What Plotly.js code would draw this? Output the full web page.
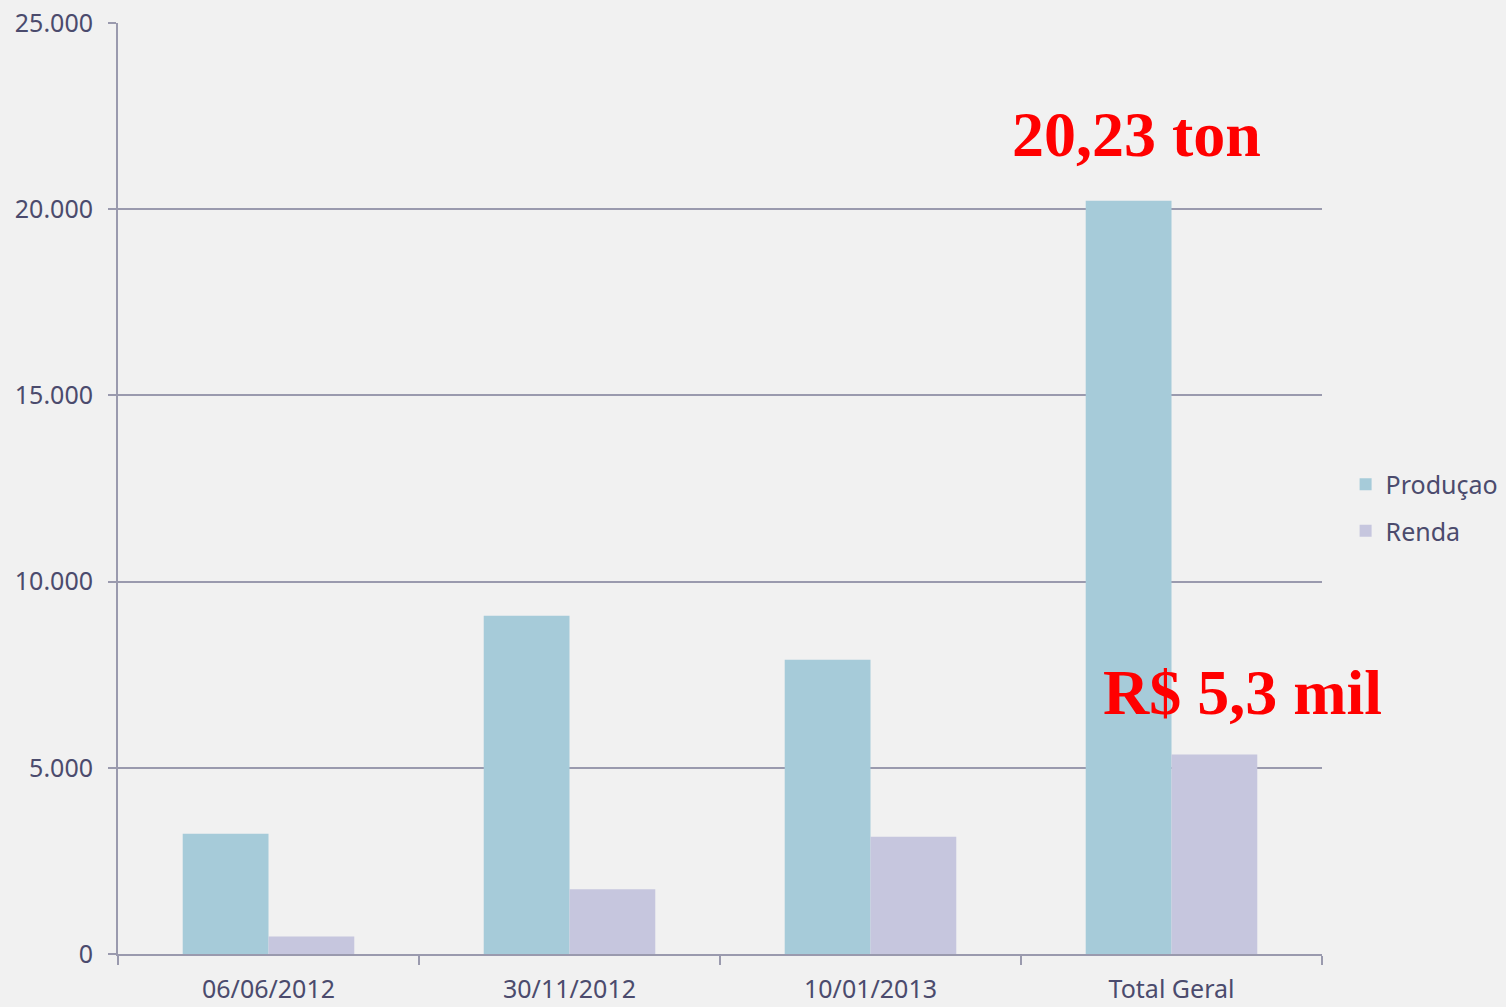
<!DOCTYPE html>
<html>
<head>
<meta charset="utf-8">
<script src="https://cdn.plot.ly/plotly-3.0.1.min.js"></script>
<style>
html,body{margin:0;padding:0;background:#f1f1f1;}
#chart{width:1506px;height:1007px;}
</style>
</head>
<body>
<div id="chart"></div>
<script>
const categories = ["06/06/2012", "30/11/2012", "10/01/2013", "Total Geral"];
const producao = [3230, 9080, 7900, 20230];
const renda = [470, 1740, 3150, 5360];
const yTickVals = [0, 5000, 10000, 15000, 20000, 25000];
const yTickText = ["0", "5.000", "10.000", "15.000", "20.000", "25.000"];

const textColor = "#4b4b6d";
const lineColor = "#9a9aae";
const fontFamily = "'Noto Sans', 'DejaVu Sans', sans-serif";

const traces = [
  {type: "bar", name: "Produçao", x: categories, y: producao,
   marker: {color: "#a6cbd9"}, legendgroup: "a"},
  {type: "bar", name: "Renda", x: categories, y: renda,
   marker: {color: "#c6c6de"}, legendgroup: "b"}
];

const layout = {
  width: 1506, height: 1007,
  paper_bgcolor: "#f1f1f1", plot_bgcolor: "rgba(0,0,0,0)",
  margin: {l: 118, r: 184, t: 23, b: 53, autoexpand: false},
  barmode: "group", bargap: 0.43, bargroupgap: 0,
  font: {family: fontFamily, size: 25, color: textColor},
  showlegend: true,
  legend: {xref: "container", yref: "container", x: 0.8935, y: 0.496,
           xanchor: "left", yanchor: "middle", itemwidth: 30,
           bgcolor: "rgba(0,0,0,0)", font: {size: 25, color: textColor},
           traceorder: "grouped", tracegroupgap: 11},
  xaxis: {type: "category", showline: true, linecolor: lineColor, linewidth: 2,
          ticks: "outside", tickson: "boundaries", ticklen: 9, tickcolor: lineColor,
          tickwidth: 2, showgrid: false, zeroline: false, ticklabelstandoff: 12,
          tickfont: {size: 25, color: textColor, family: fontFamily}},
  yaxis: {range: [0, 25000], tickvals: yTickVals, ticktext: yTickText,
          showline: true, linecolor: lineColor, linewidth: 2,
          ticks: "outside", ticklen: 8, tickcolor: lineColor, tickwidth: 2,
          showgrid: true, gridcolor: lineColor, gridwidth: 2, zeroline: false,
          ticklabelstandoff: 10,
          tickfont: {size: 25, color: textColor, family: fontFamily}},
  annotations: [
    {text: "<b>20,23 ton</b>", xref: "paper", yref: "y", x: 0.846, y: 22000,
     showarrow: false, xanchor: "center", yanchor: "middle",
     font: {family: "'Liberation Serif', 'Times New Roman', serif", size: 64, color: "#ff0000"}},
    {text: "<b>R$ 5,3 mil</b>", xref: "paper", yref: "y", x: 0.934, y: 7017,
     showarrow: false, xanchor: "center", yanchor: "middle",
     font: {family: "'Liberation Serif', 'Times New Roman', serif", size: 64, color: "#ff0000"}}
  ]
};

Plotly.newPlot("chart", traces, layout, {displayModeBar: false, staticPlot: true});
</script>
</body>
</html>
